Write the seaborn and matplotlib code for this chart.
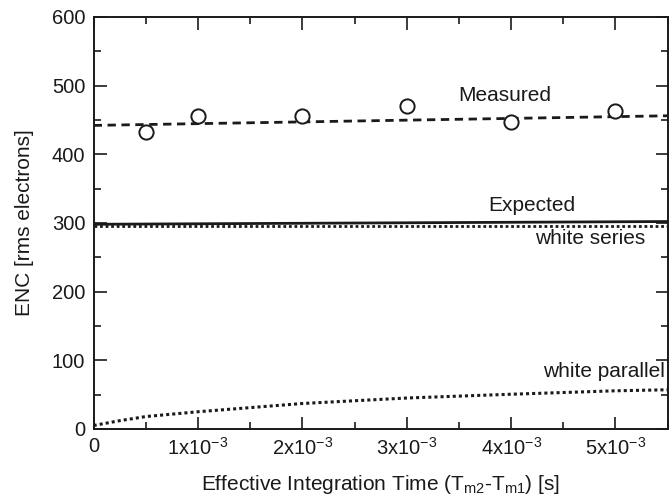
import matplotlib
matplotlib.use("Agg")
import matplotlib.pyplot as plt
import matplotlib.ticker as mticker
import seaborn as sns
import pandas as pd

# Measured points
meas_x = [0.5e-3, 1e-3, 2e-3, 3e-3, 4e-3, 5e-3]
meas_y = [432, 455, 455, 470, 447, 463]
# Measured fit (dashed)
fit_x = [0, 5.5e-3]
fit_y = [442, 456]
# Expected (solid)
exp_x = [0, 5.5e-3]
exp_y = [298, 302]
# White series (dotted)
ws_x = [0, 5.5e-3]
ws_y = [295, 295]
# White parallel (dotted)
wp_x = [0, 0.25e-3, 0.5e-3, 1e-3, 2e-3, 3e-3, 4e-3, 5e-3, 5.5e-3]
wp_y = [5, 12, 18, 25, 37, 45, 50.5, 55.5, 57]

x_ticks = [0, 1e-3, 2e-3, 3e-3, 4e-3, 5e-3]
x_ticklabels = ["0", "1x10$^{-3}$", "2x10$^{-3}$", "3x10$^{-3}$", "4x10$^{-3}$", "5x10$^{-3}$"]
y_ticks = [0, 100, 200, 300, 400, 500, 600]

sns.set_style("ticks")
plt.rcParams['font.family'] = ['Liberation Sans', 'DejaVu Sans']
plt.rcParams['mathtext.default'] = 'regular'

fig = plt.figure(figsize=(6.69, 4.97), dpi=100)
ax = fig.add_axes([0.14, 0.137, 0.858, 0.829])

sns.lineplot(x=fit_x, y=fit_y, ax=ax, color="#1a1a1a", lw=2.0, linestyle=(0, (3, 2)))
sns.lineplot(x=exp_x, y=exp_y, ax=ax, color="#1a1a1a", lw=2.0)
sns.lineplot(x=ws_x, y=ws_y, ax=ax, color="#1a1a1a", lw=2.0, linestyle=(0, (1, 1)))
sns.lineplot(x=wp_x, y=wp_y, ax=ax, color="#1a1a1a", lw=2.2, linestyle=(0, (1, 1)))
sns.scatterplot(x=meas_x, y=meas_y, ax=ax, marker="o", s=105, facecolor="white",
                edgecolor="#1a1a1a", linewidth=1.4, zorder=5)

ax.set_xlim(0, 5.5e-3)
ax.set_ylim(0, 600)
ax.set_xticks(x_ticks)
ax.set_xticklabels(x_ticklabels)
ax.xaxis.set_minor_locator(mticker.MultipleLocator(0.5e-3))
ax.set_yticks(y_ticks)
ax.yaxis.set_minor_locator(mticker.MultipleLocator(50))

for s in ax.spines.values():
    s.set_visible(True)
    s.set_linewidth(1.4)
    s.set_color("#1a1a1a")

ax.tick_params(which="both", direction="in", top=True, right=True, colors="#1a1a1a",
               labelsize=14.5, width=1.2)
ax.tick_params(which="major", length=9, pad=6)
ax.tick_params(which="minor", length=5)

ax.set_xlabel("Effective Integration Time (T$_{m2}$-T$_{m1}$) [s]", fontsize=15, color="#1a1a1a", labelpad=10)
ax.set_ylabel("ENC [rms electrons]", fontsize=15, color="#1a1a1a", labelpad=13)

ax.text(3.94e-3, 477, "Measured", fontsize=15, color="#1a1a1a", ha="center", va="baseline")
ax.text(4.2e-3, 318, "Expected", fontsize=15, color="#1a1a1a", ha="center", va="baseline")
ax.text(4.76e-3, 270, "white series", fontsize=15, color="#1a1a1a", ha="center", va="baseline")
ax.text(4.89e-3, 76, "white parallel", fontsize=15, color="#1a1a1a", ha="center", va="baseline")

fig.savefig("out.png", dpi=100)
